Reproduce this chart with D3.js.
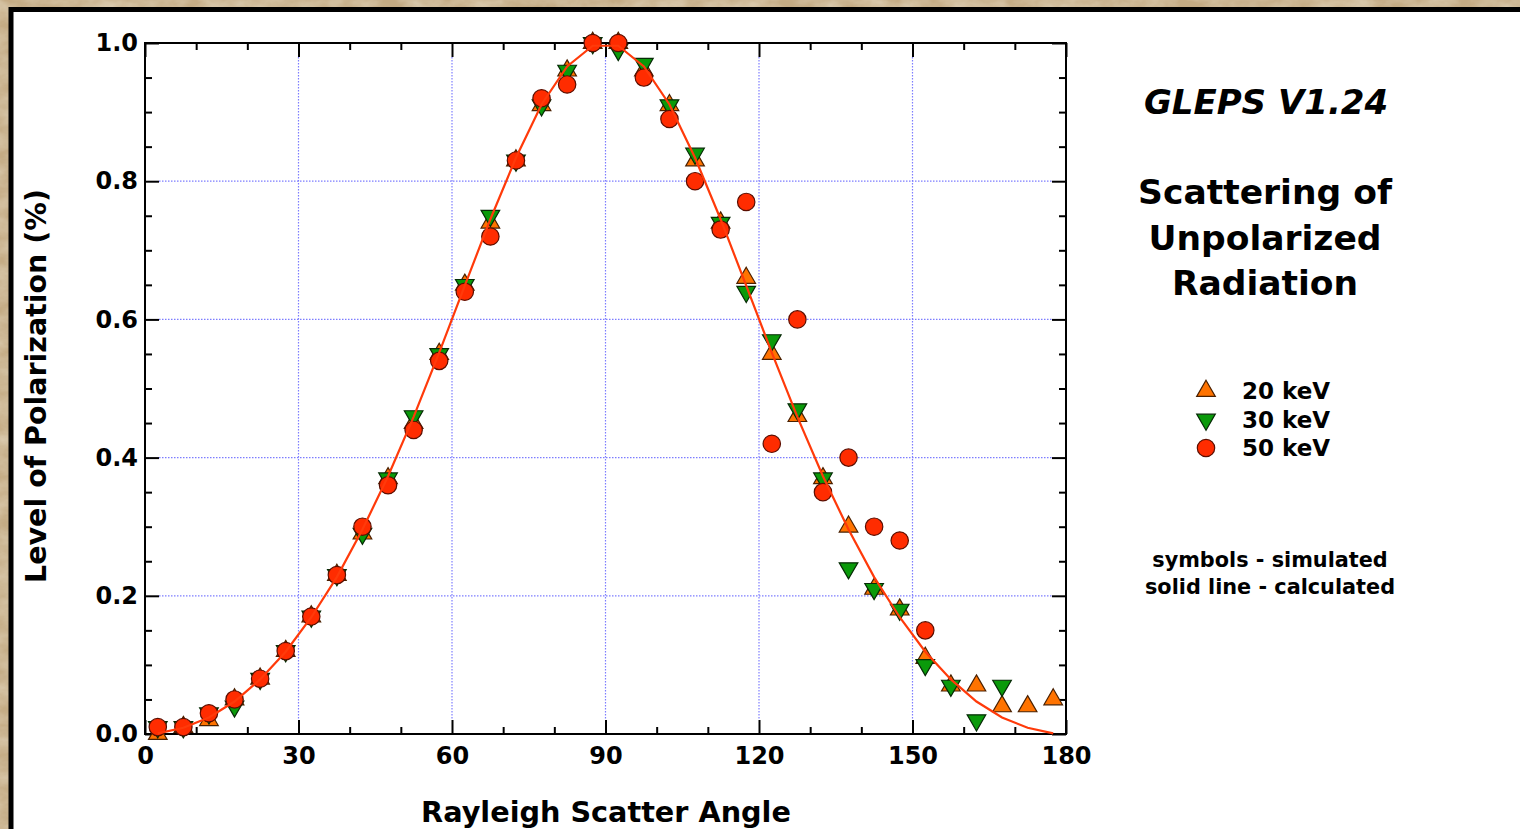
<!DOCTYPE html>
<html>
<head>
<meta charset="utf-8">
<script src="https://cdn.jsdelivr.net/npm/d3@7/dist/d3.min.js"></script>
<style>
  html, body { margin: 0; padding: 0; background: #bca27a; }
  svg { display: block; }
  text { font-family: "DejaVu Sans", "Noto Sans", sans-serif; font-weight: bold; fill: #000; }
</style>
</head>
<body>
<svg id="chart" width="1520" height="829"></svg>
<script>
// Scatter angles (degrees) of the simulated and calculated points
const angles = [2.5, 7.5, 12.5, 17.5, 22.5, 27.5, 32.5, 37.5, 42.5, 47.5, 52.5, 57.5,
  62.5, 67.5, 72.5, 77.5, 82.5, 87.5, 92.5, 97.5, 102.5, 107.5, 112.5, 117.5,
  122.5, 127.5, 132.5, 137.5, 142.5, 147.5, 152.5, 157.5, 162.5, 167.5, 172.5, 177.5];

// Simulated polarization levels (null = no point)
const kev20 = [0.00, 0.01, 0.02, 0.05, 0.08, 0.12, 0.17, 0.23, 0.29, 0.37, 0.45, 0.55,
  0.65, 0.74, 0.83, 0.91, 0.96, 1.00, 1.00, 0.96, 0.91, 0.83, 0.74, 0.66,
  0.55, 0.46, 0.37, 0.30, 0.21, 0.18, 0.11, 0.07, 0.07, 0.04, 0.04, 0.05];
const kev30 = [0.01, 0.01, 0.03, 0.04, 0.08, 0.12, 0.17, 0.23, 0.29, 0.37, 0.46, 0.55,
  0.65, 0.75, 0.83, 0.91, 0.96, 1.00, 0.99, 0.97, 0.91, 0.84, 0.74, 0.64,
  0.57, 0.47, 0.37, 0.24, 0.21, 0.18, 0.10, 0.07, 0.02, 0.07, null, null];
const kev50 = [0.01, 0.01, 0.03, 0.05, 0.08, 0.12, 0.17, 0.23, 0.30, 0.36, 0.44, 0.54,
  0.64, 0.72, 0.83, 0.92, 0.94, 1.00, 1.00, 0.95, 0.89, 0.80, 0.73, 0.77,
  0.42, 0.60, 0.35, 0.40, 0.30, 0.28, 0.15, null, null, null, null, null];

// Calculated polarization (solid line)
const calculated = [0.001, 0.009, 0.024, 0.047, 0.079, 0.119, 0.169, 0.227, 0.296, 0.373, 0.459, 0.552,
  0.649, 0.745, 0.834, 0.911, 0.966, 0.996, 0.996, 0.966, 0.911, 0.834, 0.745, 0.649,
  0.552, 0.459, 0.373, 0.296, 0.227, 0.169, 0.119, 0.079, 0.047, 0.024, 0.009, 0.001];

const xTicks = [0, 30, 60, 90, 120, 150, 180];
const yTicks = [0.0, 0.2, 0.4, 0.6, 0.8, 1.0];

const legendLabels = ["20 keV", "30 keV", "50 keV"];
const titleLines = ["Scattering of", "Unpolarized", "Radiation"];
const noteLines = ["symbols - simulated", "solid line - calculated"];

const svg = d3.select("#chart");

// Parchment-like backdrop
const defs = svg.append("defs");
const f = defs.append("filter").attr("id", "paper").attr("x", 0).attr("y", 0).attr("width", "100%").attr("height", "100%");
f.append("feTurbulence").attr("type", "fractalNoise").attr("baseFrequency", "0.035 0.06").attr("numOctaves", 4).attr("seed", 7).attr("result", "noise");
f.append("feColorMatrix").attr("in", "noise").attr("type", "matrix")
  .attr("values", "0 0 0 0 0.74  0 0 0 0 0.64  0 0 0 0 0.48  0 0 0 -1.4 1.05");
svg.append("rect").attr("width", 1520).attr("height", 829).attr("fill", "#c4ab84");
svg.append("rect").attr("width", 1520).attr("height", 829).attr("filter", "url(#paper)").attr("opacity", 0.9);

// White panel with a black frame
svg.append("rect").attr("x", 11).attr("y", 9.5).attr("width", 1520).attr("height", 840)
  .attr("fill", "#fff").attr("stroke", "#000").attr("stroke-width", 5);

const pLeft = 145, pRight = 1066, pTop = 43, pBottom = 734;
const x = d3.scaleLinear().domain([0, 180]).range([pLeft, pRight]);
const y = d3.scaleLinear().domain([0, 1]).range([pBottom, pTop]);

// Dotted grid between the major ticks
const grid = svg.append("g").attr("stroke", "#7d7dff").attr("stroke-width", 1.2).attr("stroke-dasharray", "1.5,1.5");
grid.selectAll("line.v").data(xTicks.slice(1, -1)).join("line").attr("class", "v")
  .attr("x1", d => x(d)).attr("x2", d => x(d)).attr("y1", pTop + 14).attr("y2", pBottom - 14);
grid.selectAll("line.h").data(yTicks.slice(1, -1)).join("line").attr("class", "h")
  .attr("y1", d => y(d)).attr("y2", d => y(d)).attr("x1", pLeft + 14).attr("x2", pRight - 14);

// Axes on all four sides with inward major and minor ticks
const xMinor = d3.range(0, 181, 10).filter(v => v % 30 !== 0);
const yMinor = d3.range(0, 21).map(i => i * 0.05).filter((v, i) => i % 4 !== 0);

function axisPair(axisFn, scale, pos, major, minor, labels) {
  const gMaj = svg.append("g").attr("transform", pos);
  const a = axisFn(scale).tickValues(major).tickSizeInner(-14).tickSizeOuter(0).tickPadding(13);
  if (labels) a.tickFormat(labels); else a.tickFormat("");
  gMaj.call(a);
  const gMin = svg.append("g").attr("transform", pos);
  gMin.call(axisFn(scale).tickValues(minor).tickSizeInner(-7).tickSizeOuter(0).tickFormat(""));
  [gMaj, gMin].forEach(g => {
    g.select(".domain").remove();
    g.selectAll(".tick line").attr("stroke", "#000").attr("stroke-width", 2);
  });
  gMaj.selectAll(".tick text").attr("font-size", 24).attr("font-family", "DejaVu Sans").attr("font-weight", "bold").attr("fill", "#000");
  return gMaj;
}
axisPair(d3.axisBottom, x, `translate(0,${pBottom})`, xTicks, xMinor, d => d3.format("d")(d));
axisPair(d3.axisTop, x, `translate(0,${pTop})`, xTicks, xMinor, null);
const yl = axisPair(d3.axisLeft, y, `translate(${pLeft},0)`, yTicks, yMinor, d => d3.format(".1f")(d));
axisPair(d3.axisRight, y, `translate(${pRight},0)`, yTicks, yMinor, null);
yl.selectAll(".tick text").attr("x", -7);

svg.append("rect").attr("x", pLeft).attr("y", pTop).attr("width", pRight - pLeft).attr("height", pBottom - pTop)
  .attr("fill", "none").attr("stroke", "#000").attr("stroke-width", 2);

// Markers
const upTri = d3.symbol().type(d3.symbolTriangle).size(150);
const series = [
  { values: kev20, fill: "#ff7300", stroke: "#4a2000", kind: "up" },
  { values: kev30, fill: "#0a9a0a", stroke: "#062b06", kind: "down" },
  { values: kev50, fill: "#ff2c00", stroke: "#5a0e00", kind: "circle" }
];
function drawMarker(sel, s) {
  if (s.kind === "circle") {
    sel.append("circle").attr("r", 8.7).attr("fill", s.fill).attr("stroke", s.stroke).attr("stroke-width", 1.2);
  } else {
    sel.append("path").attr("d", upTri()).attr("transform", s.kind === "down" ? "rotate(180)" : null)
      .attr("fill", s.fill).attr("stroke", s.stroke).attr("stroke-width", 1.2);
  }
}
series.forEach(s => {
  const pts = angles.map((a, i) => ({ a, v: s.values[i] })).filter(d => d.v !== null);
  svg.append("g").selectAll("g").data(pts).join("g")
    .attr("transform", d => `translate(${x(d.a)},${y(d.v)})`)
    .each(function () { drawMarker(d3.select(this), s); });
});

// Calculated curve
svg.append("path")
  .datum(angles.map((a, i) => [a, calculated[i]]))
  .attr("fill", "none").attr("stroke", "#ff3a0a").attr("stroke-width", 2.2)
  .attr("d", d3.line().x(d => x(d[0])).y(d => y(d[1])));

// Axis titles
svg.append("text").attr("x", 606).attr("y", 822).attr("text-anchor", "middle")
  .attr("font-size", 28.7).text("Rayleigh Scatter Angle");
svg.append("text").attr("transform", `translate(46,386) rotate(-90)`).attr("text-anchor", "middle")
  .attr("font-size", 28.5).text("Level of Polarization (%)");

// Side annotations
svg.append("text").attr("x", 1266).attr("y", 114).attr("text-anchor", "middle")
  .attr("font-size", 34).attr("font-style", "italic").text("GLEPS V1.24");
svg.append("g").selectAll("text").data(titleLines).join("text")
  .attr("x", 1265).attr("y", (d, i) => 204 + i * 45.5).attr("text-anchor", "middle")
  .attr("font-size", 34.5).text(d => d);

const leg = svg.append("g");
series.forEach((s, i) => {
  const g = leg.append("g").attr("transform", `translate(1206,${391 + i * 28.5})`);
  drawMarker(g, s);
  leg.append("text").attr("x", 1242).attr("y", 399 + i * 28.5).attr("font-size", 23).text(legendLabels[i]);
});
svg.append("g").selectAll("text").data(noteLines).join("text")
  .attr("x", 1270).attr("y", (d, i) => 567 + i * 27).attr("text-anchor", "middle")
  .attr("font-size", 20.8).text(d => d);
</script>
</body>
</html>
